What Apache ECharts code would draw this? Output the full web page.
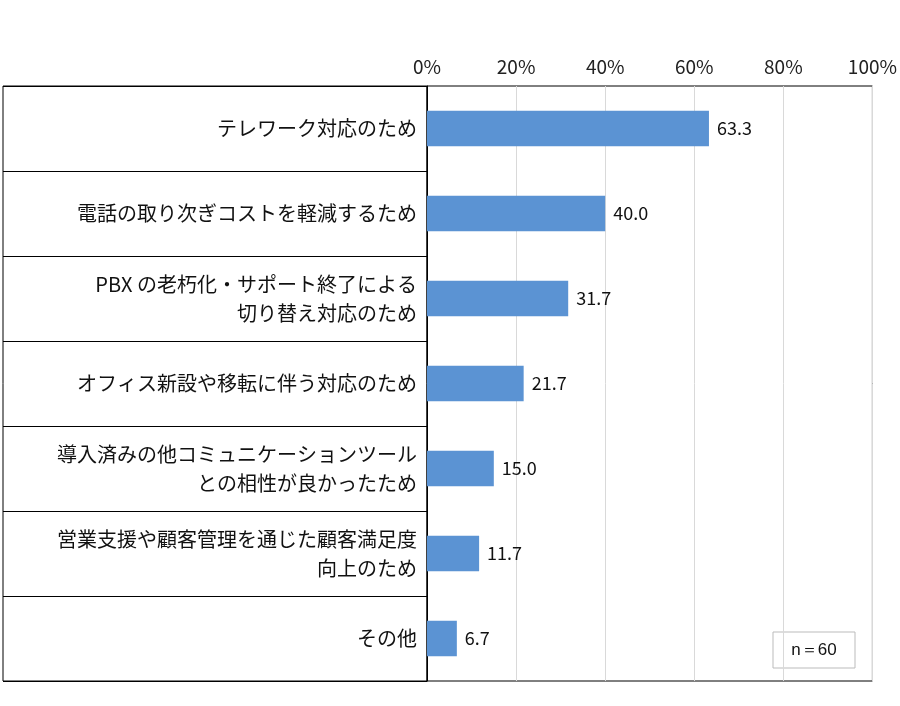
<!DOCTYPE html>
<html><head><meta charset="utf-8">
<script src="https://cdn.jsdelivr.net/npm/echarts@6/dist/echarts.min.js"></script>
<style>html,body{margin:0;padding:0;background:#fff}#c{width:900px;height:706px}</style>
</head><body><div id="c"></div>
<script>
// 導入理由
var categories = [
    "テレワーク対応のため",
    "電話の取り次ぎコストを軽減するため",
    "PBX の老朽化・サポート終了による\n切り替え対応のため",
    "オフィス新設や移転に伴う対応のため",
    "導入済みの他コミュニケーションツール\nとの相性が良かったため",
    "営業支援や顧客管理を通じた顧客満足度\n向上のため",
    "その他"
];
var values = [63.3, 40.0, 31.7, 21.7, 15.0, 11.7, 6.7];
var xTicks = [0, 20, 40, 60, 80, 100];

var chart = echarts.init(document.getElementById("c"));
var font = "'Noto Sans CJK JP', sans-serif";
chart.setOption({
    animation: false,
    textStyle: {fontFamily: font},
    grid: {left: 427, right: 27, top: 86, bottom: 25, show: true, borderColor: "#000", borderWidth: 1},
    xAxis: {
        type: "value", position: "top", min: 0, max: 100, interval: 20,
        axisLine: {show: false}, axisTick: {show: false},
        axisLabel: {formatter: "{value}%", fontSize: 19, color: "#222", margin: 10, fontFamily: font},
        splitLine: {lineStyle: {color: "#d9d9d9"}}
    },
    yAxis: {
        type: "category", inverse: true, data: categories,
        axisLine: {lineStyle: {color: "#000"}},
        axisTick: {show: true, length: 424, lineStyle: {color: "#000"}},
        axisLabel: {fontSize: 20, color: "#111", margin: 10, lineHeight: 29, align: "right", fontFamily: font}
    },
    series: [{
        type: "bar", data: values, barWidth: "42%",
        itemStyle: {color: "#5b93d3"},
        label: {show: true, position: "right", fontSize: 18, color: "#111", distance: 8,
            formatter: function (p) { return p.value.toFixed(1); }}
    }],
    graphic: [
        {type: "rect", shape: {x: 3, y: 86, width: 424, height: 595}, style: {fill: "none", stroke: "#000", lineWidth: 1}},
        {type: "rect", shape: {x: 773, y: 632, width: 82, height: 36}, style: {fill: "#fff", stroke: "#bbb", lineWidth: 1}},
        {type: "text", x: 814, y: 650, style: {text: "n＝60", fontSize: 17, fill: "#111", align: "center", verticalAlign: "middle", font: "17px " + font}}
    ]
});
</script></body></html>
